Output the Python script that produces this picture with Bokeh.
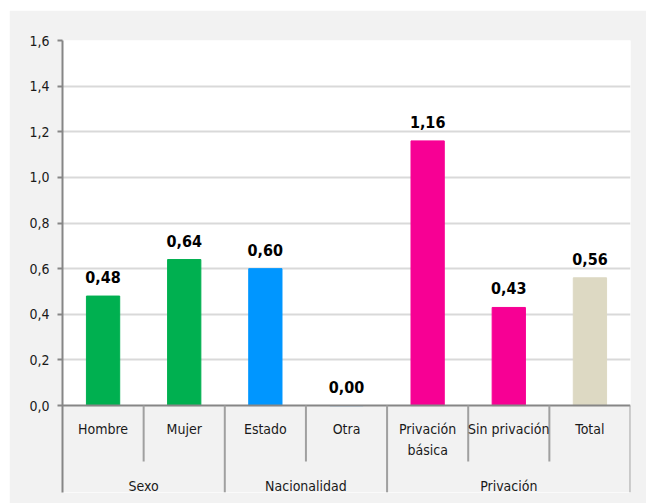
from bokeh.plotting import figure
from bokeh.models import FixedTicker, Range1d
from bokeh.core.properties import value
from bokeh.embed import file_html
from bokeh.resources import INLINE

# ---- data ----
categories = ["Hombre", "Mujer", "Estado", "Otra", "Privación\nbásica", "Sin privación", "Total"]
values = [0.48, 0.64, 0.60, 0.00, 1.16, 0.43, 0.56]
value_labels = ["0,48", "0,64", "0,60", "0,00", "1,16", "0,43", "0,56"]
groups = ["Sexo", "Sexo", "Nacionalidad", "Nacionalidad", "Privación", "Privación", "Privación"]
colors = ["#00b050", "#00b050", "#0096ff", "#0096ff", "#f70094", "#f70094", "#ddd9c3"]
y_ticks = [0.0, 0.2, 0.4, 0.6, 0.8, 1.0, 1.2, 1.4, 1.6]
y_tick_labels = ["0,0", "0,2", "0,4", "0,6", "0,8", "1,0", "1,2", "1,4", "1,6"]

FONT = "'DejaVu Sans Condensed', 'Liberation Sans Narrow', sans-serif"
AX = "#868686"
SEP = "#a0a0a0"

n = len(categories)
centers = [i + 0.5 for i in range(n)]
y_min = -0.381

p = figure(width=637, height=493, output_backend="svg", toolbar_location=None,
           x_range=Range1d(0, n), y_range=Range1d(y_min, y_ticks[-1]),
           x_axis_location=None, min_border_left=53, min_border_right=16,
           min_border_top=30, min_border_bottom=11)
p.margin = (10, 0, 0, 9)
p.background_fill_color = "white"
p.border_fill_color = "#f2f2f2"
p.outline_line_color = None
p.xgrid.visible = False
p.ygrid.ticker = FixedTicker(ticks=y_ticks[1:])
p.ygrid.grid_line_color = "#d9d9d9"
p.ygrid.grid_line_width = 2

ax = p.yaxis[0]
ax.ticker = FixedTicker(ticks=y_ticks)
ax.major_label_overrides = {t: l for t, l in zip(y_ticks, y_tick_labels)}
ax.axis_line_color = AX
ax.axis_line_width = 2
ax.major_tick_line_color = AX
ax.major_tick_line_width = 2
ax.major_tick_in = 0
ax.major_tick_out = 5
ax.minor_tick_line_color = None
ax.major_label_text_font = FONT
ax.major_label_text_font_size = "14px"
ax.major_label_text_color = "#1a1a1a"
ax.major_label_standoff = 8

# grey category-axis area below zero
p.quad(left=0, right=n, bottom=y_min, top=0, fill_color="#f2f2f2", line_color=None)

# bars
p.vbar(x=centers, top=values, width=0.41, color=colors)

# zero line
p.segment(x0=[0], x1=[n], y0=[0], y1=[0], line_color=AX, line_width=2)

# separators
short_x, long_x = [], []
for i in range(1, n):
    if groups[i] != groups[i - 1]:
        long_x.append(i)
    else:
        short_x.append(i)
long_x.append(n)
p.segment(x0=short_x, x1=short_x, y0=[0] * len(short_x), y1=[-0.245] * len(short_x),
          line_color=SEP, line_width=2)
p.segment(x0=long_x, x1=long_x, y0=[0] * len(long_x), y1=[y_min] * len(long_x),
          line_color=SEP, line_width=2)

# value labels
p.text(x=centers, y=values, text=value_labels, text_align="center", text_baseline="bottom",
       y_offset=-13, text_font=value(FONT), text_font_size="16px", text_font_style="bold",
       text_color="black")

# category labels
p.text(x=centers, y=[0] * n, text=categories, text_align="center", text_baseline="top",
       y_offset=15, text_font=value(FONT), text_font_size="14px", text_color="#1a1a1a",
       text_line_height=1.35)

# group labels
gnames, gstart, gend = [], [], []
for i, g in enumerate(groups):
    if not gnames or gnames[-1] != g:
        gnames.append(g); gstart.append(i); gend.append(i + 1)
    else:
        gend[-1] = i + 1
gcenters = [(a + b) / 2 for a, b in zip(gstart, gend)]
p.text(x=gcenters, y=[0] * len(gnames), text=gnames, text_align="center",
       text_baseline="middle", y_offset=80, text_font=value(FONT), text_font_size="14px",
       text_color="#1a1a1a")

open("out.html", "w").write(file_html(p, INLINE))
